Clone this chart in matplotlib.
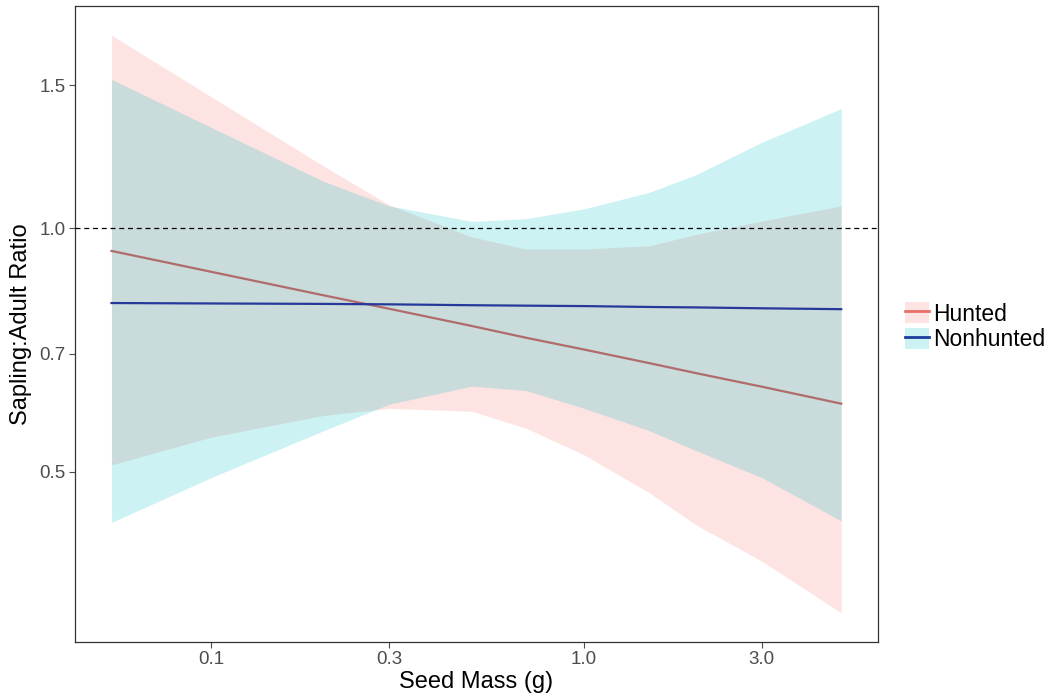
import matplotlib
matplotlib.use("Agg")
import matplotlib.pyplot as plt
import numpy as np
from matplotlib.patches import Patch
from matplotlib.lines import Line2D
from matplotlib.legend_handler import HandlerTuple

plt.rcParams["font.family"] = ["Liberation Sans", "DejaVu Sans"]

# seed mass (g) sample points
seed_mass = [0.054, 0.1, 0.2, 0.3, 0.5, 0.7, 1.0, 1.5, 2.0, 3.0, 4.9]

# Hunted: fit and 95% band
hunted_fit = [0.937, 0.883, 0.826, 0.795, 0.757, 0.732, 0.708, 0.681, 0.662, 0.637, 0.607]
hunted_lo = [0.510, 0.552, 0.587, 0.599, 0.594, 0.566, 0.525, 0.471, 0.430, 0.388, 0.335]
hunted_hi = [1.730, 1.452, 1.193, 1.068, 0.975, 0.942, 0.942, 0.951, 0.982, 1.020, 1.065]

# Nonhunted: fit and 95% band
nonhunted_fit = [0.808, 0.807, 0.806, 0.805, 0.803, 0.802, 0.801, 0.799, 0.798, 0.796, 0.794]
nonhunted_lo = [0.433, 0.492, 0.562, 0.606, 0.638, 0.630, 0.599, 0.562, 0.531, 0.492, 0.435]
nonhunted_hi = [1.526, 1.331, 1.142, 1.065, 1.019, 1.027, 1.056, 1.107, 1.164, 1.276, 1.404]

x_ticks = [0.1, 0.3, 1.0, 3.0]
x_tick_labels = ["0.1", "0.3", "1.0", "3.0"]
y_ticks = [0.5, 0.7, 1.0, 1.5]
y_tick_labels = ["0.5", "0.7", "1.0", "1.5"]

fig = plt.figure(figsize=(10.49, 6.99), dpi=100)
ax = fig.add_axes([0.0715, 0.082, 0.7652, 0.909])

ax.fill_between(seed_mass, hunted_lo, hunted_hi, color="#F8766D", alpha=0.2, lw=0, zorder=1)
ax.fill_between(seed_mass, nonhunted_lo, nonhunted_hi, color="#00BFC4", alpha=0.2, lw=0, zorder=2)
ax.plot(seed_mass, hunted_fit, color="#B06C6B", lw=1.6, zorder=3)
ax.plot(seed_mass, nonhunted_fit, color="#26399A", lw=1.6, zorder=3)
ax.axhline(1.0, color="black", lw=0.9, ls=(0, (4, 3)), zorder=4)

ax.set_xscale("log")
ax.set_yscale("log")

# ggplot style 5% expansion in log space
lx = np.log10([min(seed_mass), max(seed_mass)])
dx = 0.05 * (lx[1] - lx[0])
ax.set_xlim(10 ** (lx[0] - dx), 10 ** (lx[1] + dx))
ly = np.log([min(hunted_lo + nonhunted_lo), max(hunted_hi + nonhunted_hi)])
dy = 0.05 * (ly[1] - ly[0])
ax.set_ylim(np.exp(ly[0] - dy), np.exp(ly[1] + dy))

ax.set_xticks(x_ticks)
ax.set_xticklabels(x_tick_labels)
ax.set_yticks(y_ticks)
ax.set_yticklabels(y_tick_labels)
ax.minorticks_off()
ax.tick_params(axis="both", labelsize=13.5, colors="#4D4D4D", length=4, width=0.8, pad=3)

for s in ax.spines.values():
    s.set_color("#333333")
    s.set_linewidth(0.9)

ax.set_xlabel("Seed Mass (g)", fontsize=17, labelpad=2)
ax.set_ylabel("Sapling:Adult Ratio", fontsize=17, labelpad=5)

handles = [
    (Patch(facecolor="#F8766D", alpha=0.2, lw=0), Line2D([], [], color="#E8706A", lw=2)),
    (Patch(facecolor="#00BFC4", alpha=0.2, lw=0), Line2D([], [], color="#1C3C9C", lw=2)),
]
fig.legend(handles, ["Hunted", "Nonhunted"], handler_map={tuple: HandlerTuple(ndivide=1)},
           loc="center left", bbox_to_anchor=(0.8627, 0.5326), frameon=False,
           fontsize=16.5, handlelength=1.05, handleheight=1.05, handletextpad=0.2,
           labelspacing=0.1, borderpad=0, borderaxespad=0)

plt.savefig("out.png", dpi=100)
